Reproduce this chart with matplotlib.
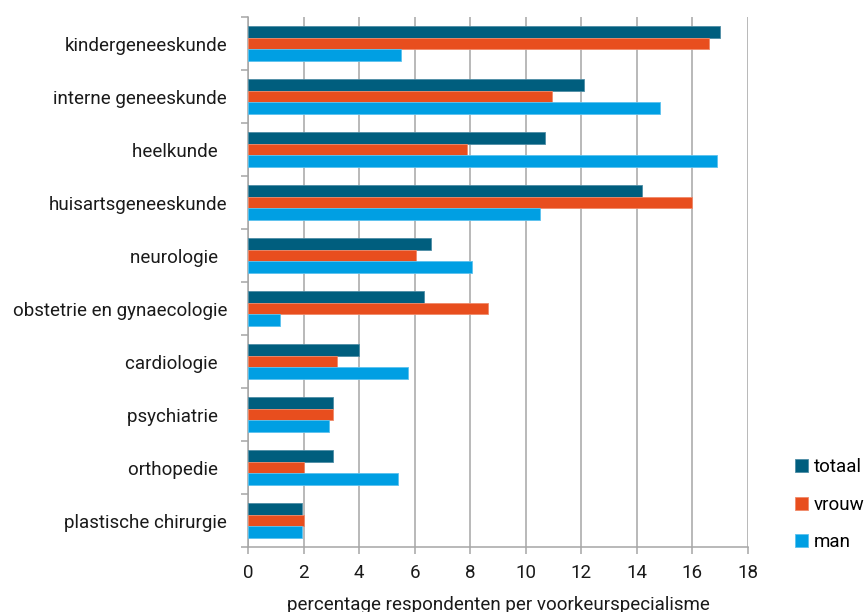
import numpy as np
import matplotlib
matplotlib.use("Agg")
import matplotlib.pyplot as plt

# categories from top to bottom
specialismen = ['kindergeneeskunde', 'interne geneeskunde', 'heelkunde  ', 'huisartsgeneeskunde',
                'neurologie  ', 'obstetrie en gynaecologie', 'cardiologie  ', 'psychiatrie  ',
                'orthopedie  ', 'plastische chirurgie']
totaal = [17.0, 12.1, 10.7, 14.2, 6.6, 6.35, 4.0, 3.05, 3.05, 1.95]
vrouw = [16.6, 10.95, 7.9, 16.0, 6.05, 8.65, 3.2, 3.05, 2.0, 2.0]
man = [5.5, 14.85, 16.9, 10.5, 8.05, 1.15, 5.75, 2.9, 5.4, 1.95]
series_names = ['totaal', 'vrouw', 'man']
colors = ['#005E7E', '#E84E1E', '#009FE3']
edge_colors = ['#4F8DA5', '#F08A6A', '#5CC2EE']

plt.rcParams['font.family'] = ['Roboto', 'DejaVu Sans']

fig = plt.figure(figsize=(8.65, 6.12), dpi=100)
ax = fig.add_axes([0.2867, 0.106, 0.578, 0.866])

n = len(specialismen)
y = np.arange(n)
h = 0.22
for k, (vals, name) in enumerate(zip([totaal, vrouw, man], series_names)):
    ax.barh(y - h + k * h, vals, height=h, color=colors[k], edgecolor=edge_colors[k],
            linewidth=0.6, label=name, zorder=3)

ax.set_ylim(n - 0.5, -0.5)
ax.set_xlim(0, 18)
ax.set_xticks(np.arange(0, 19, 2))
ax.set_yticks(y)
ax.set_yticklabels(specialismen)
ax.set_yticks(np.arange(-0.5, n, 1), minor=True)

ax.grid(axis='x', color='#A6A6A6', linewidth=1.1, zorder=0)
for s in ['top', 'right']:
    ax.spines[s].set_visible(False)
for s in ['left', 'bottom']:
    ax.spines[s].set_color('#A6A6A6')
    ax.spines[s].set_linewidth(1.1)

ax.tick_params(axis='y', which='major', length=0, pad=15, labelsize=13.5, labelcolor='#1a1a1a')
ax.tick_params(axis='y', which='minor', length=5, color='#A6A6A6', width=1.1)
ax.tick_params(axis='x', which='major', length=5, color='#A6A6A6', width=1.1,
               labelsize=13.5, labelcolor='#1a1a1a', pad=7)

ax.set_xlabel('percentage respondenten per voorkeurspecialisme', fontsize=13.5,
              color='#1a1a1a', labelpad=10)

ax.legend(loc='upper left', bbox_to_anchor=(1.06, 0.2), frameon=False, fontsize=13.5,
          handlelength=0.7, handleheight=0.7, handletextpad=0.3, labelspacing=1.05)

fig.savefig('out.png', dpi=100)
